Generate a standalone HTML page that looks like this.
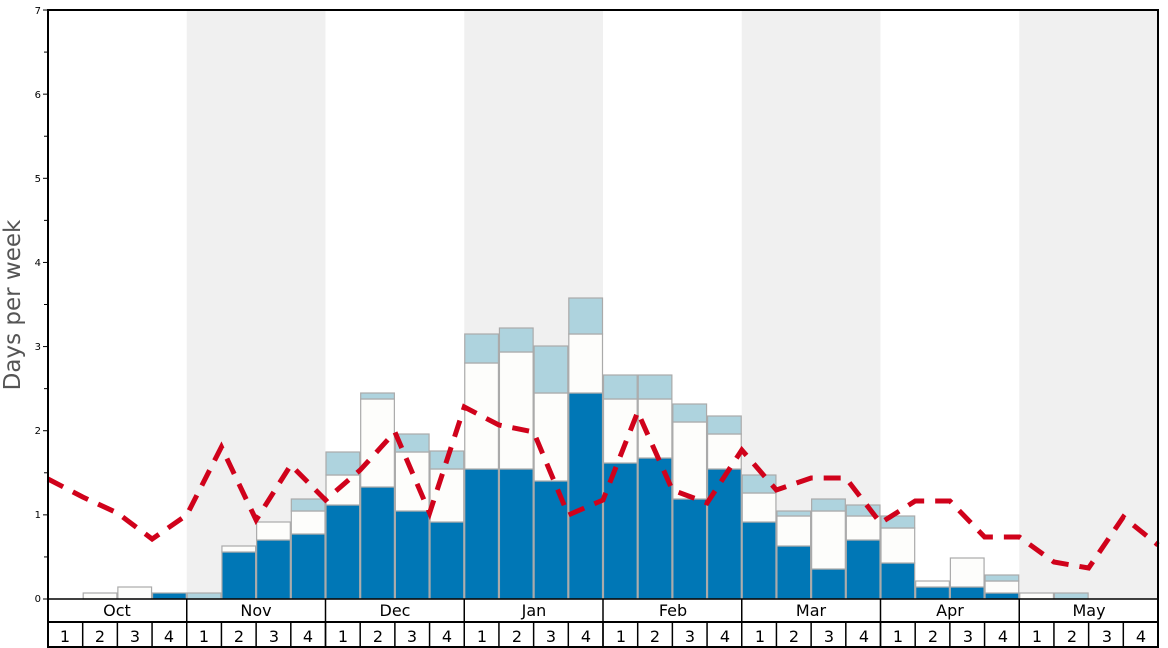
<!DOCTYPE html>
<html><head><meta charset="utf-8"><style>
html,body{margin:0;padding:0;background:#fff;}
svg{display:block;font-family:"DejaVu Sans","Liberation Sans",sans-serif;}
</style></head><body>
<svg id="s" width="1168" height="648" viewBox="0 0 1168 648" xmlns="http://www.w3.org/2000/svg">
<g id="bg"></g>
<g id="bars"></g>
<polyline id="line" fill="none" stroke="#d0021b" stroke-width="5" stroke-dasharray="17,11"/>
<rect x="48" y="10" width="1110" height="637" fill="none" stroke="#000" stroke-width="2"/>
<line x1="48" y1="599" x2="1158" y2="599" stroke="#000" stroke-width="1.5"/>
<line x1="48" y1="622" x2="1158" y2="622" stroke="#000" stroke-width="2"/>
<g id="ticks" stroke="#000" stroke-width="1"></g>
<g font-size="10" text-anchor="end" fill="#000">
<text x="41" y="602">0</text><text x="41" y="518">1</text><text x="41" y="434">2</text><text x="41" y="350">3</text>
<text x="41" y="266">4</text><text x="41" y="182">5</text><text x="41" y="98">6</text><text x="41" y="14">7</text>
</g>
<text transform="translate(20,305) rotate(-90)" font-size="23" fill="#555" text-anchor="middle">Days per week</text>
<g font-size="16" text-anchor="middle" fill="#000">
<text x="117" y="616">Oct</text><text x="256" y="616">Nov</text><text x="395" y="616">Dec</text><text x="534" y="616">Jan</text>
<text x="673" y="616">Feb</text><text x="811" y="616">Mar</text><text x="950" y="616">Apr</text><text x="1089" y="616">May</text>
</g>
<g font-size="16" text-anchor="middle" fill="#000">
<text x="65" y="642">1</text><text x="100" y="642">2</text><text x="135" y="642">3</text><text x="169" y="642">4</text>
<text x="204" y="642">1</text><text x="239" y="642">2</text><text x="274" y="642">3</text><text x="308" y="642">4</text>
<text x="343" y="642">1</text><text x="378" y="642">2</text><text x="412" y="642">3</text><text x="447" y="642">4</text>
<text x="482" y="642">1</text><text x="517" y="642">2</text><text x="551" y="642">3</text><text x="586" y="642">4</text>
<text x="621" y="642">1</text><text x="655" y="642">2</text><text x="690" y="642">3</text><text x="725" y="642">4</text>
<text x="760" y="642">1</text><text x="794" y="642">2</text><text x="829" y="642">3</text><text x="864" y="642">4</text>
<text x="898" y="642">1</text><text x="933" y="642">2</text><text x="968" y="642">3</text><text x="1003" y="642">4</text>
<text x="1037" y="642">1</text><text x="1072" y="642">2</text><text x="1107" y="642">3</text><text x="1141" y="642">4</text>
</g>
</svg>
<script>
var NS="http://www.w3.org/2000/svg",W=(1158-48)/32;
function el(p,t,a){var e=document.createElementNS(NS,t);for(var k in a)e.setAttribute(k,a[k]);document.getElementById(p).appendChild(e);return e;}
[1,3,5,7].forEach(function(m){el("bg","rect",{x:48+m*4*W,y:10,width:4*W,height:589,fill:"#f0f0f0"});});
var d=[[null,null,null],[null,593,null],[null,587,null],[593,null,null],
[null,null,593],[552,546,null],[540,522,null],[534,511,499],
[505,475,452],[487,399,393],[511,452,434],[522,469,451],
[469,363,334],[469,352,328],[481,393,346],[393,334,298],
[463,399,375],[458,399,375],[499,422,404],[469,434,416],
[522,493,475],[546,516,511],[569,511,499],[540,516,505],
[563,528,516],[587,581,null],[587,558,null],[593,581,575],
[null,593,null],[null,null,593],[null,null,null],[null,null,null]];
d.forEach(function(c,i){var x=48+i*W,base=599;
 var cols=["#0077b6","#fdfdfb","#aed3de"];
 for(var j=0;j<3;j++){if(c[j]==null)continue;
  el("bars","rect",{x:x+0.5,y:c[j],width:W-1,height:base-c[j],fill:cols[j],stroke:"#aaa","stroke-width":1.2});base=c[j];}
});
var ly=[479,497,513,539,515,447,520,465,500,470,432,513,407,425,432,515,500,412,490,503,450,490,478,478,523,501,501,537,537,562,568,517,545];
document.getElementById("line").setAttribute("points",ly.map(function(y,i){return (48+i*W).toFixed(1)+","+y;}).join(" "));
for(var v=0;v<=14;v++){var y=599-v*84.14/2;el("ticks","line",{x1:v%2?44:43,y1:y,x2:48,y2:y});}
for(var m=0;m<=8;m++){var x=48+m*4*W;el("ticks","line",{x1:x,y1:599,x2:x,y2:647,"stroke-width":1.5});}
for(var i=0;i<32;i++){var x=48+i*W;el("ticks","line",{x1:x,y1:622,x2:x,y2:647,"stroke-width":1.5});}
</script>
</body></html>
